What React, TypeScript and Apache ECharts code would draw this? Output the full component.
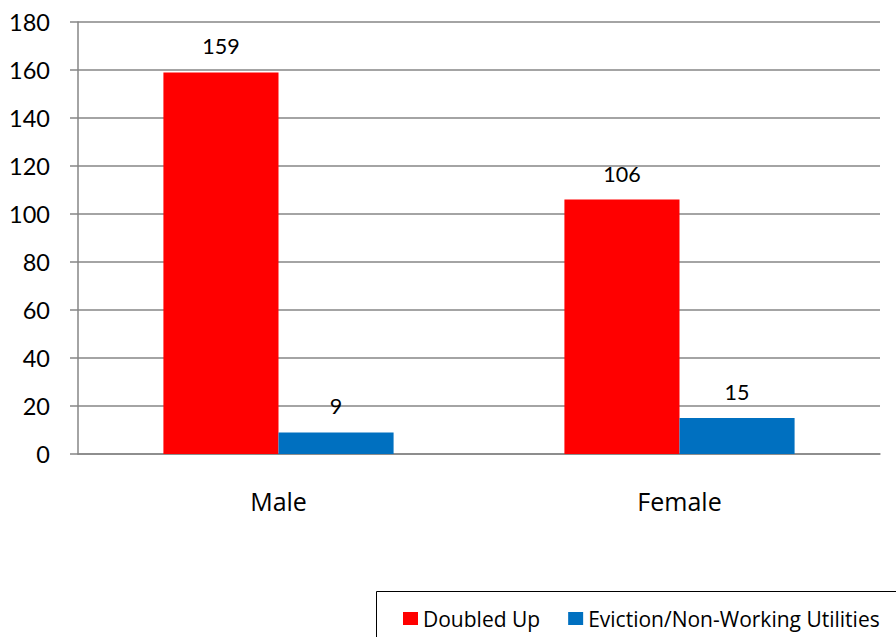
import React, { useEffect, useRef } from "react";
import * as echarts from "echarts";

const categories = ["Male", "Female"];
const doubledUp = [159, 106];
const eviction = [9, 15];
const seriesNames = ["Doubled Up", "Eviction/Non-Working Utilities"];

export default function App() {
  const ref = useRef<HTMLDivElement>(null);
  useEffect(() => {
    const chart = echarts.init(ref.current!, undefined, { renderer: "svg" });
    const font = "Lato, 'Open Sans', sans-serif";
    const wide = "'Open Sans', Lato, sans-serif";
    chart.setOption({
      animation: false,
      textStyle: { fontFamily: font },
      grid: { left: 78, right: 16, top: 22, bottom: 183, containLabel: false },
      legend: {
        left: 403,
        top: 608,
        padding: 0,
        itemWidth: 15,
        itemHeight: 13,
        itemGap: 28,
        icon: "rect",
        textStyle: { fontSize: 21, color: "#000", fontFamily: wide },
        data: seriesNames,
      },
      graphic: [
        {
          type: "rect",
          shape: { x: 376.5, y: 591.5, width: 540, height: 80 },
          style: { fill: "none", stroke: "#000", lineWidth: 1 },
        },
      ],
      xAxis: {
        type: "category",
        data: categories,
        axisLine: { lineStyle: { color: "#868686", width: 1.5 } },
        axisTick: { length: 8, lineStyle: { color: "#868686", width: 1.5 } },
        axisLabel: { fontSize: 25, color: "#000", margin: 34, fontFamily: wide },
      },
      yAxis: {
        type: "value",
        min: 0,
        max: 180,
        interval: 20,
        axisLine: { show: true, lineStyle: { color: "#868686", width: 1.5 } },
        axisTick: { show: true, length: 8, lineStyle: { color: "#868686", width: 1.5 } },
        splitLine: { lineStyle: { color: "#868686", width: 1.5 } },
        axisLabel: { fontSize: 23.5, color: "#000", margin: 28, fontFamily: font },
      },
      series: [
        {
          name: seriesNames[0],
          type: "bar",
          data: doubledUp,
          itemStyle: { color: "#FF0000" },
          barGap: "0%",
          barCategoryGap: "42.6%",
          label: { show: true, position: "top", distance: 15, fontSize: 21.5, color: "#000", fontFamily: font },
        },
        {
          name: seriesNames[1],
          type: "bar",
          data: eviction,
          itemStyle: { color: "#0070C0" },
          barGap: "0%",
          barCategoryGap: "42.6%",
          label: { show: true, position: "top", distance: 15, fontSize: 21.5, color: "#000", fontFamily: font },
        },
      ],
    });
    return () => chart.dispose();
  }, []);
  return <div ref={ref} style={{ width: 896, height: 637, position: "absolute", left: 0, top: 0 }} />;
}
